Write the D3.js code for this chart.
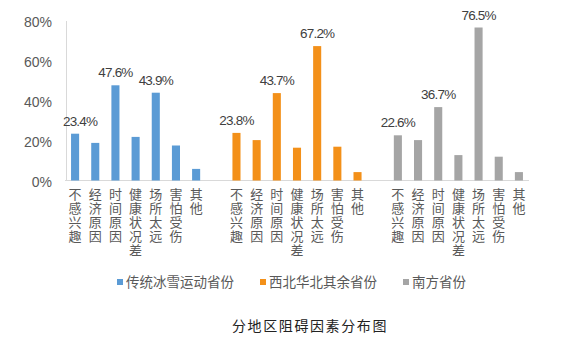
<!DOCTYPE html>
<html><head><meta charset="utf-8">
<script src="https://cdn.jsdelivr.net/npm/d3@7"></script>
<style>
body{margin:0;background:#fff;}
svg{display:block;}
</style></head>
<body>
<svg id="c" width="584" height="352"></svg>
<script>
const categories = ["不感兴趣","经济原因","时间原因","健康状况差","场所太远","害怕受伤","其他"];
const seriesNames = ["传统冰雪运动省份","西北华北其余省份","南方省份"];
const seriesColors = ["#5B9BD5","#F39019","#A5A5A5"];
const valuesTraditional = [23.4, 18.8, 47.6, 21.8, 43.9, 17.5, 5.8];
const valuesNorthwest = [23.8, 20.2, 43.7, 16.4, 67.2, 16.9, 4.2];
const valuesSouth = [22.6, 20.2, 36.7, 12.7, 76.5, 11.9, 4.2];
const labelledIdx = [0, 2, 4];
const yTicks = [0, 20, 40, 60, 80];
const title = "分地区阻碍因素分布图";

const allValues = [valuesTraditional, valuesNorthwest, valuesSouth];
const svg = d3.select("#c");
const textColor = "#595959";
const font = "Arial, 'Liberation Sans', 'Noto Sans CJK SC', sans-serif";

// slots: 7 categories, spacer, 7, spacer, 7
const slots = [];
allValues.forEach((vals, g) => {
  categories.forEach((c, i) => slots.push({key: g + "-" + i, g, i, c, v: vals[i]}));
  if (g < allValues.length - 1) slots.push({key: "sp" + g, spacer: true});
});

const x = d3.scaleBand().domain(slots.map(d => d.key)).range([65, 529]).paddingInner(0.6).paddingOuter(0.3);
const y = d3.scaleLinear().domain([0, 80]).range([180.5, 20.5]);

// y axis
const yAxis = d3.axisLeft(y).tickValues(yTicks).tickFormat(d => d + "%").tickSize(0).tickPadding(14);
const yg = svg.append("g").attr("transform", "translate(66,0)").call(yAxis);
yg.select(".domain").attr("stroke", "#d9d9d9");
yg.selectAll("text").attr("font-family", font).attr("font-size", 14).attr("fill", textColor).attr("dy", "0.4em");

// x axis line
svg.append("line").attr("x1", 65).attr("x2", 529).attr("y1", y(0)).attr("y2", y(0)).attr("stroke", "#d9d9d9");

const data = slots.filter(d => !d.spacer);
svg.selectAll("rect.bar").data(data).join("rect").attr("class", "bar")
  .attr("x", d => x(d.key)).attr("width", x.bandwidth())
  .attr("y", d => y(d.v)).attr("height", d => y(0) - y(d.v))
  .attr("fill", d => seriesColors[d.g]);

// value labels
svg.selectAll("text.val").data(data.filter(d => labelledIdx.includes(d.i))).join("text").attr("class", "val")
  .attr("x", d => x(d.key) + x.bandwidth() / 2 + (d.g === 0 && d.i === 0 ? 5 : 0))
  .attr("y", d => y(d.v) - 8)
  .attr("text-anchor", "middle").attr("font-family", font).attr("font-size", 13.5)
  .attr("letter-spacing", "-0.8px").attr("fill", "#404040")
  .text(d => d.v.toFixed(1) + "%");

// category labels (vertical writing)
svg.selectAll("text.cat").data(data).join("text").attr("class", "cat")
  .attr("x", d => x(d.key) + x.bandwidth() / 2).attr("y", 188)
  .style("writing-mode", "vertical-rl")
  .attr("text-anchor", "start").attr("font-family", "'Noto Sans CJK SC', sans-serif")
  .attr("font-size", 13).attr("letter-spacing", "1px").attr("fill", textColor).text(d => d.c);

// legend
const legendX = [117, 260, 403];
const lg = svg.selectAll("g.leg").data(seriesNames).join("g").attr("class", "leg")
  .attr("transform", (d, i) => `translate(${legendX[i]},282)`);
lg.append("rect").attr("x", 0).attr("y", -3).attr("width", 6).attr("height", 6).attr("fill", (d, i) => seriesColors[i]);
lg.append("text").attr("x", 9).attr("y", 0).attr("dy", "0.36em")
  .attr("font-family", "'Noto Sans CJK SC', sans-serif").attr("font-size", 13.5).attr("fill", textColor).text(d => d);

// title
svg.append("text").attr("x", 310).attr("y", 326).attr("dy", "0.36em").attr("text-anchor", "middle")
  .attr("font-family", "'Noto Sans CJK SC', serif").attr("font-size", 14).attr("letter-spacing", "1.6px")
  .attr("fill", "#222").text(title);
</script>
</body></html>
